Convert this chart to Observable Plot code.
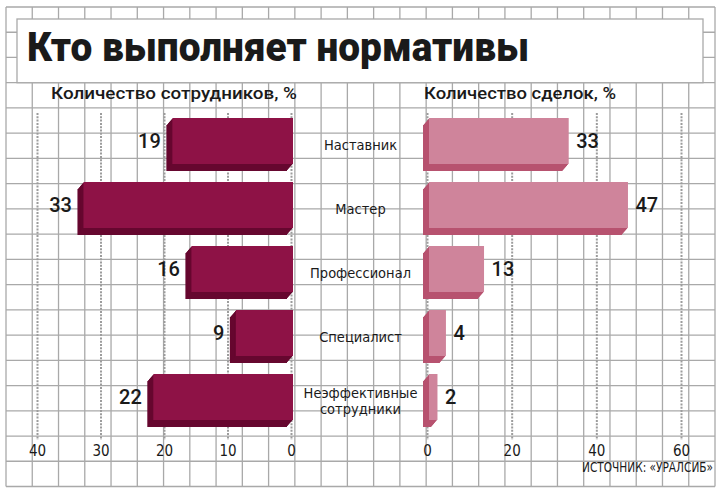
<!DOCTYPE html>
<html><head><meta charset="utf-8">
<script src="https://cdn.jsdelivr.net/npm/d3@7"></script>
<script src="https://cdn.jsdelivr.net/npm/@observablehq/plot@0.6"></script>
<style>
html,body{margin:0;padding:0;background:#fff;}
#wrap{position:relative;width:721px;height:496px;overflow:hidden;background:#fff;font-family:"DejaVu Sans Condensed","DejaVu Sans",sans-serif;color:#1a1a1a;}
#wrap>svg,#wrap>div,#wrap>span{position:absolute;left:0;top:0;}
.t{white-space:nowrap;line-height:1;transform-origin:0 0;}
</style></head>
<body><div id="wrap"></div>
<script>
// ---- data ----
const categories = ["Наставник","Мастер","Профессионал","Специалист","Неэффективные\nсотрудники"];
const employeesPct = [19,33,16,9,22];
const dealsPct = [33,47,13,4,2];
const employeeTicks = [0,10,20,30,40];
const dealTicks = [0,20,40,60];
const titleText = "Кто выполняет нормативы";
const leftSubtitle = "Количество сотрудников, %";
const rightSubtitle = "Количество сделок, %";
const sourceText = "ИСТОЧНИК: «УРАЛСИБ»";

const employees = categories.map((c,i)=>({cat:c, v:employeesPct[i]}));
const deals = categories.map((c,i)=>({cat:c, v:dealsPct[i]}));

const W = 721, H = 496;
const wrap = document.getElementById("wrap");

// ---- background grid (decoration) ----
const gridColor = "#a9a9a9";
const bg = d3.create("svg").attr("width",W).attr("height",H);
const gx0 = 6, gx1 = 715, gy0 = 7, gy1 = 486.5, ncols = 27, nrows = 19;
for (let i=0;i<=ncols;i++){ const x = gx0 + (gx1-gx0)*i/ncols;
  bg.append("line").attr("x1",x).attr("x2",x).attr("y1",gy0).attr("y2",gy1).attr("stroke",gridColor).attr("stroke-width",1.3); }
for (let j=0;j<=nrows;j++){ const y = gy0 + (gy1-gy0)*j/nrows;
  bg.append("line").attr("x1",gx0).attr("x2",gx1).attr("y1",y).attr("y2",y).attr("stroke",gridColor).attr("stroke-width",1.3); }
const boxBottom = gy0 + (gy1-gy0)*3/nrows;
bg.append("rect").attr("x",17).attr("y",19).attr("width",686).attr("height",boxBottom-19)
  .attr("fill","#fff").attr("stroke",gridColor).attr("stroke-width",1.3);
wrap.appendChild(bg.node());

// ---- charts ----
const yScale = {type:"band", domain: categories, range:[111.4, 432.4], paddingInner:0.175, paddingOuter:0.0875, axis:null};
const depth = 7, side = 8;
function extrusion(data, color){
  const marks = [];
  for (let k=depth;k>=1;k--){
    marks.push(Plot.barX(data,{x:"v", y:"cat", fill:color, insetBottom:depth, dx: 2 - k*side/depth*0.75, dy:k}));
  }
  return marks;
}
const numFont = "Roboto, DejaVu Sans, sans-serif";
const common = {width:W, height:H, marginTop:113, marginBottom:56,
  style:{background:"transparent", fontFamily:"DejaVu Sans Condensed, DejaVu Sans, sans-serif", fontSize:"15px", color:"#1a1a1a", overflow:"visible"}};

const left = Plot.plot({...common,
  x:{domain:[0,40], range:[291,37], ticks:employeeTicks, tickSize:0, tickPadding:5, label:null},
  y:yScale,
  marks:[
    Plot.ruleX(employeeTicks,{x:d=>d, stroke:"#9c9c9c", strokeWidth:2, strokeDasharray:"2 1.3"}),
    ...extrusion(employees, "#66072f"),
    Plot.barX(employees,{x:"v", y:"cat", fill:"#8e1246", insetBottom:depth, dx:2}),
    Plot.text(employees,{x:"v", y:"cat", text:d=>String(d.v), textAnchor:"end", dx:-10, dy:-3.5, fontSize:20, fontWeight:500, fontFamily:numFont, fill:"#1a1a1a"}),
    Plot.text(categories,{y:d=>d, x:()=>0, dx:69, dy:0, textAnchor:"middle", fontSize:14.5, lineHeight:1.1, fill:"#1a1a1a"})
  ]});
wrap.appendChild(left);

const right = Plot.plot({...common,
  x:{domain:[0,60], range:[427,681], ticks:dealTicks, tickSize:0, tickPadding:5, label:null},
  y:yScale,
  marks:[
    Plot.ruleX(dealTicks,{x:d=>d, stroke:"#9c9c9c", strokeWidth:2, strokeDasharray:"2 1.3"}),
    ...extrusion(deals, "#b7526f"),
    Plot.barX(deals,{x:"v", y:"cat", fill:"#cf849b", insetBottom:depth, dx:2}),
    Plot.text(deals,{x:"v", y:"cat", text:d=>String(d.v), textAnchor:"start", dx:9, dy:-3.5, fontSize:20, fontWeight:500, fontFamily:numFont, fill:"#1a1a1a"})
  ]});
wrap.appendChild(right);

// ---- html texts ----
function addText(txt, leftPx, baseline, size, weight, targetW, family){
  const s = document.createElement("span");
  s.className = "t"; s.textContent = txt;
  if (family) s.style.fontFamily = family;
  s.style.fontSize = size+"px"; s.style.fontWeight = weight;
  s.style.left = leftPx+"px"; s.style.top = (baseline - 0.846*size)+"px";
  wrap.appendChild(s);
  const w = s.getBoundingClientRect().width;
  if (targetW && w>0) s.style.transform = `scaleX(${targetW/w})`;
  return s;
}
addText(titleText, 27, 61.5, 40, 900, 502, "Roboto, DejaVu Sans, sans-serif");
addText(leftSubtitle, 51, 99.5, 17, 500, 246, "Roboto, DejaVu Sans, sans-serif");
addText(rightSubtitle, 424, 99.5, 17, 500, 192, "Roboto, DejaVu Sans, sans-serif");
addText(sourceText, 582, 472, 14, "normal", 131);
</script></body></html>
